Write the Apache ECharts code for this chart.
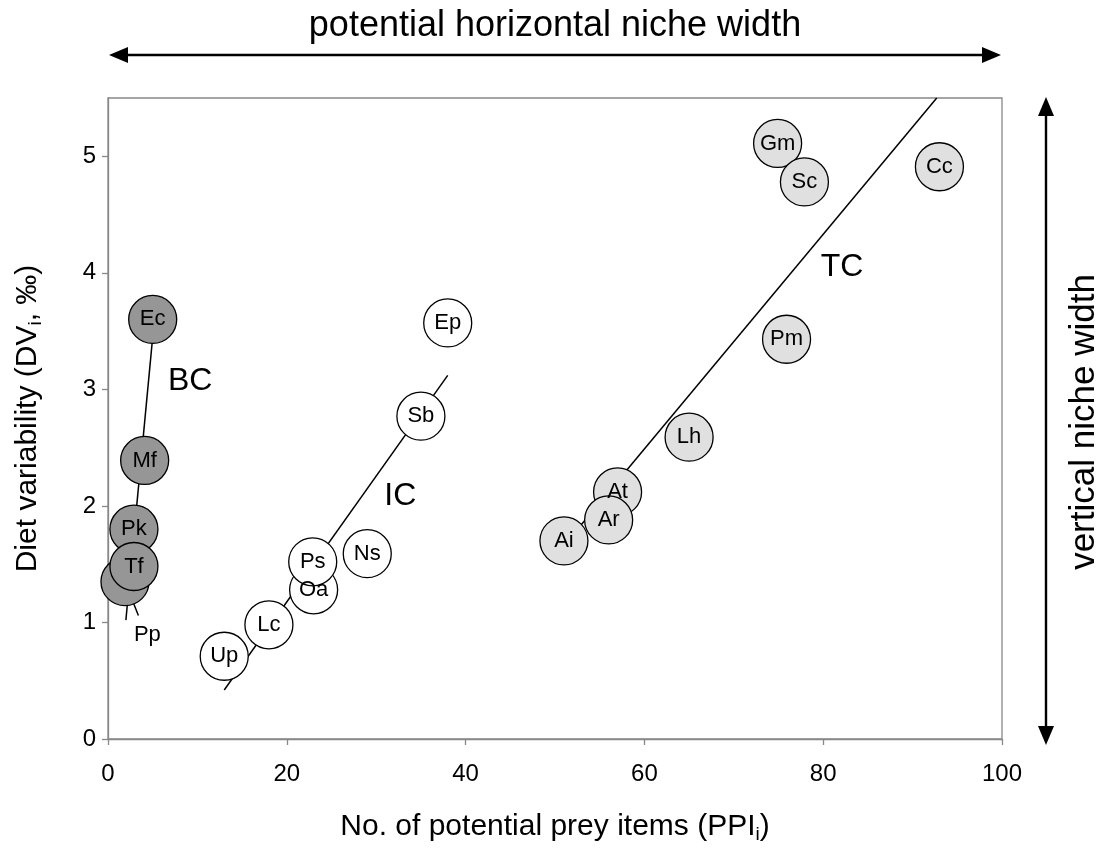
<!DOCTYPE html>
<html><head><meta charset="utf-8">
<script src="https://cdn.jsdelivr.net/npm/echarts@6/dist/echarts.min.js"></script>
<style>html,body{margin:0;padding:0;background:#fff}#c{width:1096px;height:849px}</style>
</head><body><div id="c"></div>
<script>
// ---- data ----
const bcNames = ['Ec', 'Mf', 'Pk', 'Pp', 'Tf'];
const bcX = [5.0, 4.1, 2.9, 1.9, 2.9];
const bcY = [3.60, 2.39, 1.80, 1.35, 1.48];
const icNames = ['Ep', 'Sb', 'Ns', 'Oa', 'Ps', 'Lc', 'Up'];
const icX = [38.0, 35.0, 29.0, 23.0, 22.9, 18.0, 13.0];
const icY = [3.57, 2.77, 1.59, 1.28, 1.52, 0.98, 0.71];
const tcNames = ['Gm', 'Sc', 'Cc', 'Pm', 'Lh', 'At', 'Ar', 'Ai'];
const tcX = [74.9, 77.9, 93.0, 75.9, 65.0, 57.0, 56.0, 51.0];
const tcY = [5.11, 4.78, 4.91, 3.43, 2.59, 2.12, 1.88, 1.70];
// fitted lines (end points)
const bcLineX = [2.0, 5.0], bcLineY = [1.02, 3.45];
const icLineX = [13.0, 38.0], icLineY = [0.42, 3.12];
const tcLineX = [51.0, 92.7], tcLineY = [1.66, 5.5];
// annotations
const groupLabels = ['BC', 'IC', 'TC'];
const groupLabelX = [9.2, 32.7, 82.1];
const groupLabelY = [3.07, 2.08, 4.05];
const ppLabelX = [4.4], ppLabelY = [0.89];
const ppLeaderX = [1.9, 3.4], ppLeaderY = [1.35, 1.06];
const xTicks = [0, 20, 40, 60, 80, 100];
const yTicks = [0, 1, 2, 3, 4, 5];

// ---- build ----
const zip = (xs, ys) => xs.map((x, i) => [x, ys[i]]);
const FONT = '"Liberation Sans", Arial, sans-serif';
const lineSeries = (xs, ys) => ({
  type: 'line', data: zip(xs, ys), symbol: 'none', z: 2, silent: true,
  lineStyle: { color: '#000', width: 1.5 }
});
const circleSeries = (names, xs, ys, fill) => ({
  type: 'scatter', z: 3, symbol: 'circle', symbolSize: 48,
  data: names.map((n, i) => ({ name: n, value: [xs[i], ys[i]] })),
  itemStyle: { color: fill, borderColor: '#000', borderWidth: 1.3, opacity: 1 },
  label: { show: true, position: 'inside', color: '#000', fontSize: 22, fontFamily: FONT,
    formatter: p => (p.name === 'Pp' ? '' : p.name) },
  emphasis: { disabled: true }
});
const textSeries = (names, xs, ys, size) => ({
  type: 'scatter', z: 4, symbolSize: 0, silent: true,
  data: names.map((n, i) => ({ name: n, value: [xs[i], ys[i]] })),
  itemStyle: { opacity: 1, color: '#000' },
  label: { show: true, position: 'inside', color: '#000', fontSize: size, fontFamily: FONT,
    formatter: p => p.name }
});
const subRich = (size) => ({
  n: { fontSize: size, lineHeight: 34, fontFamily: FONT, color: '#000' },
  s: { fontSize: Math.round(size * 0.62), lineHeight: 16, verticalAlign: 'bottom', fontFamily: FONT, color: '#000' }
});

const chart = echarts.init(document.getElementById('c'), null, { renderer: 'canvas' });
chart.setOption({
  animation: false,
  backgroundColor: '#fff',
  textStyle: { fontFamily: FONT },
  grid: { left: 108, right: 94, top: 98, bottom: 108, show: true, borderColor: '#888', borderWidth: 1.3 },
  xAxis: {
    type: 'value', min: 0, max: 100, interval: 20,
    axisLine: { lineStyle: { color: '#888', width: 1.3 } },
    axisTick: { show: true, length: 6, lineStyle: { color: '#888', width: 1.3 }, customValues: xTicks },
    axisLabel: { color: '#000', fontSize: 24, fontFamily: FONT, margin: 23, customValues: xTicks },
    splitLine: { show: false },
    name: '{n|No. of potential prey items (PPI}{s|i}{n|)}',
    nameLocation: 'middle', nameGap: 71,
    nameTextStyle: { color: '#000', fontFamily: FONT, fontSize: 30, rich: subRich(30) }
  },
  yAxis: {
    type: 'value', min: 0, max: 5.5, interval: 1,
    axisLine: { show: true, lineStyle: { color: '#888', width: 1.3 } },
    axisTick: { show: true, length: 6, lineStyle: { color: '#888', width: 1.3 }, customValues: yTicks },
    axisLabel: { color: '#000', fontSize: 24, fontFamily: FONT, margin: 12, customValues: yTicks },
    splitLine: { show: false },
    name: '{n|Diet variability (DV}{s|i}{n|, ‰)}',
    nameLocation: 'middle', nameGap: 63,
    nameTextStyle: { color: '#000', fontFamily: FONT, fontSize: 30, rich: subRich(30) }
  },
  series: [
    lineSeries(bcLineX, bcLineY),
    lineSeries(icLineX, icLineY),
    lineSeries(tcLineX, tcLineY),
    lineSeries(ppLeaderX, ppLeaderY),
    circleSeries(bcNames, bcX, bcY, '#969696'),
    circleSeries(icNames, icX, icY, '#ffffff'),
    circleSeries(tcNames, tcX, tcY, '#e0e0e0'),
    textSeries(groupLabels, groupLabelX, groupLabelY, 32),
    textSeries(['Pp'], ppLabelX, ppLabelY, 22)
  ],
  graphic: [
    { type: 'line', shape: { x1: 125, y1: 55, x2: 985, y2: 55 }, style: { stroke: '#000', lineWidth: 2.4 } },
    { type: 'polygon', shape: { points: [[109, 55], [128, 47], [128, 63]] }, style: { fill: '#000' } },
    { type: 'polygon', shape: { points: [[1001, 55], [982, 47], [982, 63]] }, style: { fill: '#000' } },
    { type: 'text', x: 555, y: 26, style: { text: 'potential horizontal niche width', fontSize: 36, fontFamily: FONT,
      fill: '#000', align: 'center', verticalAlign: 'middle' } },
    { type: 'line', shape: { x1: 1046, y1: 112, x2: 1046, y2: 730 }, style: { stroke: '#000', lineWidth: 2.4 } },
    { type: 'polygon', shape: { points: [[1046, 97], [1038, 116], [1054, 116]] }, style: { fill: '#000' } },
    { type: 'polygon', shape: { points: [[1046, 745], [1038, 726], [1054, 726]] }, style: { fill: '#000' } },
    { type: 'text', x: 1084, y: 422, rotation: Math.PI / 2, style: { text: 'vertical niche width', fontSize: 35,
      fontFamily: FONT, fill: '#000', align: 'center', verticalAlign: 'middle' } }
  ]
});
</script></body></html>
